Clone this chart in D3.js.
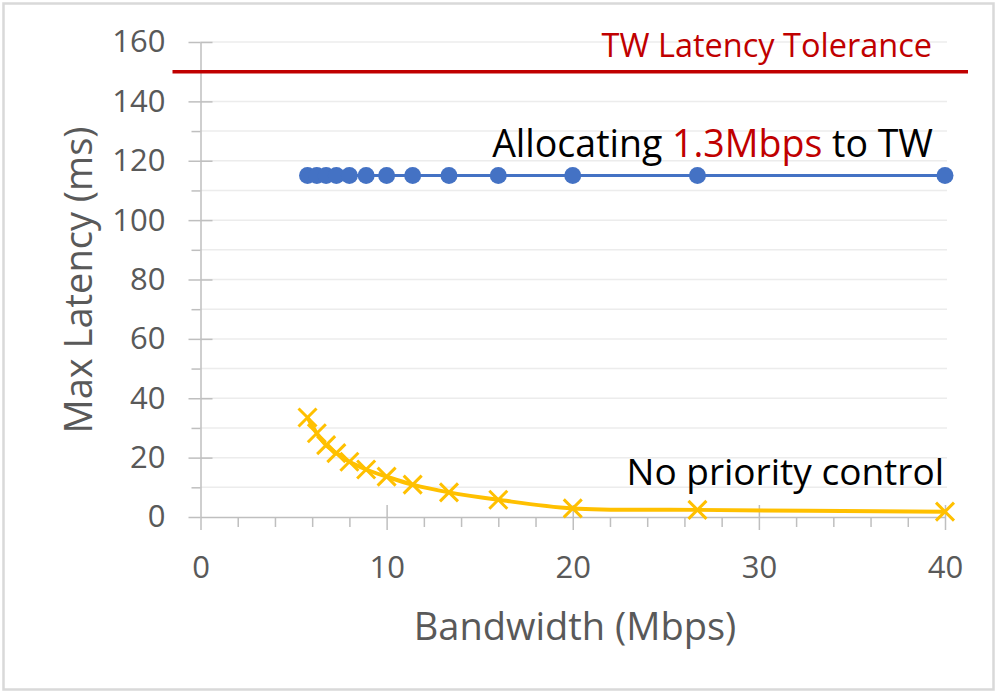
<!DOCTYPE html>
<html>
<head>
<meta charset="utf-8">
<title>Max Latency vs Bandwidth</title>
<script src="https://cdnjs.cloudflare.com/ajax/libs/d3/7.8.5/d3.min.js"></script>
<style>
body { margin: 0; background: white; }
text { font-family: "Open Sans", "Noto Sans", sans-serif; }
.tick text { fill: #595959; font-size: 31px; }
.axis path, .axis line { stroke: #bfbfbf; stroke-width: 1.5; }
.grid line { stroke: #ececec; stroke-width: 1.5; }
.title { fill: #595959; font-size: 38px; }
</style>
</head>
<body>
<div id="chart"></div>
<script>
// bandwidth (Mbps) for each measurement
var bandwidth = [5.75, 6.25, 6.75, 7.3, 8.0, 8.9, 10.0, 11.4, 13.35, 16.0, 20.0, 26.7, 40.0];
// max latency (ms) with 1.3Mbps allocated to TW
var allocLatency = [115, 115, 115, 115, 115, 115, 115, 115, 115, 115, 115, 115, 115];
// max latency (ms) without priority control
var noPrioLatency = [33.5, 28.2, 24.2, 21.5, 18.6, 16.0, 13.6, 10.9, 8.3, 5.8, 2.9, 2.4, 1.8];
var tolerance = 150;

var xTicks = [0, 10, 20, 30, 40];
var xMinor = [2, 4, 6, 8, 12, 14, 16, 18, 22, 24, 26, 28, 32, 34, 36, 38];
var yTicks = [0, 20, 40, 60, 80, 100, 120, 140, 160];
var yMinor = [10, 30, 50, 70, 90, 110, 130, 150];

var W = 999, H = 692;
var svg = d3.select('#chart').append('svg')
  .attr('width', W).attr('height', H);

// outer frame
svg.append('rect')
  .attr('x', 3.5).attr('y', 3.5)
  .attr('width', 990).attr('height', 686)
  .attr('fill', 'white')
  .attr('stroke', '#d9d9d9')
  .attr('stroke-width', 2.5);

var x = d3.scaleLinear().domain([0, 40]).range([200.5, 945]);
var y = d3.scaleLinear().domain([0, 160]).range([517, 42]);

// gridlines every 10
svg.append('g').attr('class', 'grid')
  .selectAll('line')
  .data(yTicks.concat(yMinor).filter(d => d > 0))
  .join('line')
  .attr('x1', x(0)).attr('x2', x(40) + 2)
  .attr('y1', d => y(d)).attr('y2', d => y(d));

// y axis: labels + outer part of major ticks
svg.append('g').attr('class', 'axis')
  .attr('transform', `translate(${x(0)},0)`)
  .call(d3.axisLeft(y).tickValues(yTicks).tickSizeInner(12).tickSizeOuter(0).tickPadding(23));
// inner part of major ticks
svg.append('g').attr('class', 'axis')
  .attr('transform', `translate(${x(0)},0)`)
  .call(d3.axisRight(y).tickValues(yTicks.filter(d => d > 0)).tickSize(12).tickFormat(''))
  .select('.domain').remove();
// minor ticks
svg.append('g').attr('class', 'axis')
  .attr('transform', `translate(${x(0)},0)`)
  .call(d3.axisLeft(y).tickValues(yMinor).tickSize(9).tickFormat(''))
  .select('.domain').remove();

// x axis
svg.append('g').attr('class', 'axis')
  .attr('transform', `translate(0,${y(0)})`)
  .call(d3.axisBottom(x).tickValues(xTicks).tickSizeInner(13).tickSizeOuter(0).tickPadding(26));
svg.append('g').attr('class', 'axis')
  .attr('transform', `translate(0,${y(0)})`)
  .call(d3.axisTop(x).tickValues(xTicks.filter(d => d > 0)).tickSize(12).tickFormat(''))
  .select('.domain').remove();
svg.append('g').attr('class', 'axis')
  .attr('transform', `translate(0,${y(0)})`)
  .call(d3.axisBottom(x).tickValues(xMinor).tickSize(10).tickFormat(''))
  .select('.domain').remove();

// axis titles
svg.append('text').attr('class', 'title')
  .attr('x', 575).attr('y', 640)
  .attr('text-anchor', 'middle')
  .text('Bandwidth (Mbps)');
svg.append('text').attr('class', 'title')
  .attr('transform', 'translate(92,280) rotate(-90)')
  .attr('text-anchor', 'middle')
  .text('Max Latency (ms)');

// tolerance line
svg.append('line')
  .attr('x1', x(0) - 28).attr('x2', x(40) + 23)
  .attr('y1', y(tolerance)).attr('y2', y(tolerance))
  .attr('stroke', '#c00000').attr('stroke-width', 3.5);

var alloc = bandwidth.map((b, i) => [b, allocLatency[i]]);
var noPrio = bandwidth.map((b, i) => [b, noPrioLatency[i]]);

// blue series
svg.append('path')
  .datum(alloc)
  .attr('fill', 'none').attr('stroke', '#4472c4').attr('stroke-width', 3)
  .attr('d', d3.line().x(d => x(d[0])).y(d => y(d[1])));
svg.append('g').selectAll('circle')
  .data(alloc).join('circle')
  .attr('cx', d => x(d[0])).attr('cy', d => y(d[1]))
  .attr('r', 8.5).attr('fill', '#4472c4');

// yellow series
svg.append('path')
  .datum(noPrio)
  .attr('fill', 'none').attr('stroke', '#ffc000').attr('stroke-width', 4)
  .attr('d', d3.line().curve(d3.curveCatmullRom).x(d => x(d[0])).y(d => y(d[1])));
var s = 9;
svg.append('g').selectAll('path')
  .data(noPrio).join('path')
  .attr('d', d => {
    var cx = x(d[0]), cy = y(d[1]);
    return `M${cx - s},${cy - s}L${cx + s},${cy + s}M${cx - s},${cy + s}L${cx + s},${cy - s}`;
  })
  .attr('stroke', '#ffc000').attr('stroke-width', 3).attr('fill', 'none');

// annotations
svg.append('text')
  .attr('x', 932).attr('y', 57)
  .attr('text-anchor', 'end')
  .attr('fill', '#c00000').attr('font-size', 32.5)
  .text('TW Latency Tolerance');

var t = svg.append('text')
  .attr('x', 933).attr('y', 157)
  .attr('text-anchor', 'end')
  .attr('fill', 'black').attr('font-size', 37.5)
  .text('Allocating ');
t.append('tspan').attr('fill', '#c00000').text('1.3Mbps');
t.append('tspan').text(' to TW');

svg.append('text')
  .attr('x', 944).attr('y', 485)
  .attr('text-anchor', 'end')
  .attr('fill', 'black').attr('font-size', 37)
  .text('No priority control');
</script>
</body>
</html>
